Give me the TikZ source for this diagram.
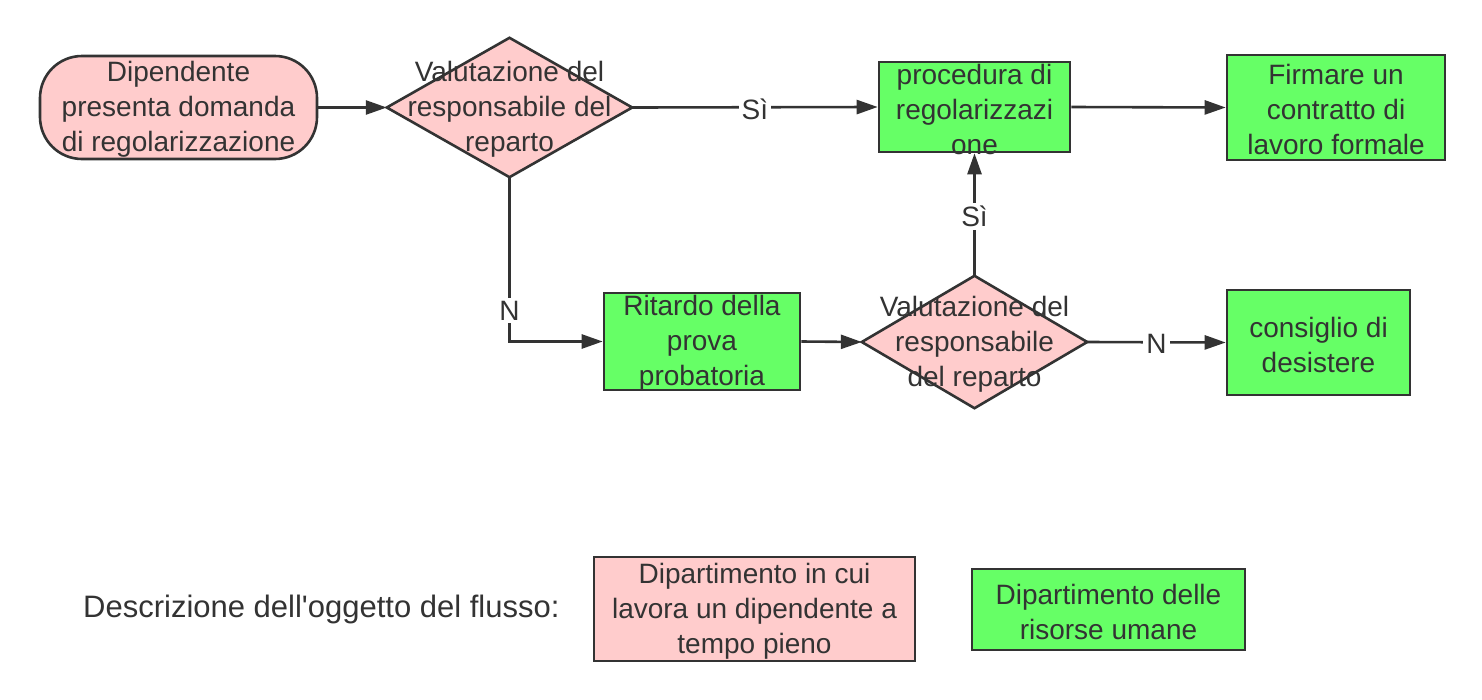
\documentclass[tikz,border=0pt]{standalone}
\usepackage{fontspec}
\setmainfont{Liberation Sans}
\usetikzlibrary{arrows.meta}
\definecolor{pinkfill}{HTML}{FFCCCC}
\definecolor{greenfill}{HTML}{66FF66}
\definecolor{ink}{HTML}{333333}
\begin{document}
\begin{tikzpicture}[x=1pt,y=-1pt,
  shp/.style={draw=ink, line width=2.6pt, inner sep=0pt},
  pinkbox/.style={shp, fill=pinkfill},
  greenbox/.style={shp, fill=greenfill},
  holder/.style={inner sep=0pt},
  txt/.style={text=ink, align=center, inner sep=0pt, yshift=-2pt, font=\fontsize{28}{35}\selectfont},
  arr/.style={draw=ink, line width=2.6pt, -{Triangle[length=21pt,width=14pt]}},
  lbl/.style={txt, fill=white, inner sep=3pt}
]
\useasboundingbox (0,0) rectangle (1482,699);
\fill[white] (0,0) rectangle (1482,699);

% start
\node[pinkbox, rounded corners=42pt, minimum width=277pt, minimum height=103pt] (s) at (178.5,107.5) {};
\node[txt] at (s) {Dipendente\\presenta domanda\\di regolarizzazione};

% decision 1
\node[holder, minimum width=245pt, minimum height=139pt] (d1) at (509.5,107.5) {};
\draw[pinkbox, line join=miter] (d1.north) -- (d1.east) -- (d1.south) -- (d1.west) -- cycle;
\node[txt] at (d1) {Valutazione del\\responsabile del\\reparto};

% procedura
\node[greenbox, minimum width=191pt, minimum height=90pt] (p) at (974.5,107) {};
\node[txt] at (p) {procedura di\\regolarizzazi\\one};

% firmare
\node[greenbox, minimum width=218pt, minimum height=105pt] (f) at (1336,107.5) {};
\node[txt] at (f) {Firmare un\\contratto di\\lavoro formale};

% ritardo
\node[greenbox, minimum width=196pt, minimum height=97pt] (r) at (702,341.5) {};
\node[txt] at (r) {Ritardo della\\prova\\probatoria};

% decision 2
\node[holder, minimum width=225pt, minimum height=132pt] (d2) at (974.5,342) {};
\draw[pinkbox, line join=miter] (d2.north) -- (d2.east) -- (d2.south) -- (d2.west) -- cycle;
\node[txt] at (d2) {Valutazione del\\responsabile\\del reparto};

% consiglio
\node[greenbox, minimum width=183pt, minimum height=105pt] (c) at (1318.5,342.5) {};
\node[txt] at (c) {consiglio di\\desistere};

% connectors
\draw[arr] (s.east) -- (d1.west);
\draw[arr] (d1.east) -- node[lbl]{Sì} (p.west);
\draw[arr] (p.east) -- (f.west);
\draw[arr] (d1.south) |- node[lbl, pos=0.4]{N} (r.west);
\draw[arr] (r.east) -- (d2.west);
\draw[arr] (d2.north) -- node[lbl]{Sì} (p.south);
\draw[arr] (d2.east) -- node[lbl]{N} (c.west);

% legend
\node[txt, anchor=west, font=\fontsize{31}{37}\selectfont] (lt) at (83,607) {Descrizione dell\textquotesingle oggetto del flusso:};
\node[pinkbox, minimum width=321pt, minimum height=104pt] (lp) at (754.5,609) {};
\node[txt] at (lp) {Dipartimento in cui\\lavora un dipendente a\\tempo pieno};
\node[greenbox, minimum width=273pt, minimum height=81pt] (lg) at (1108.5,609.5) {};
\node[txt] at (lg) {Dipartimento delle\\risorse umane};
\end{tikzpicture}
\end{document}
